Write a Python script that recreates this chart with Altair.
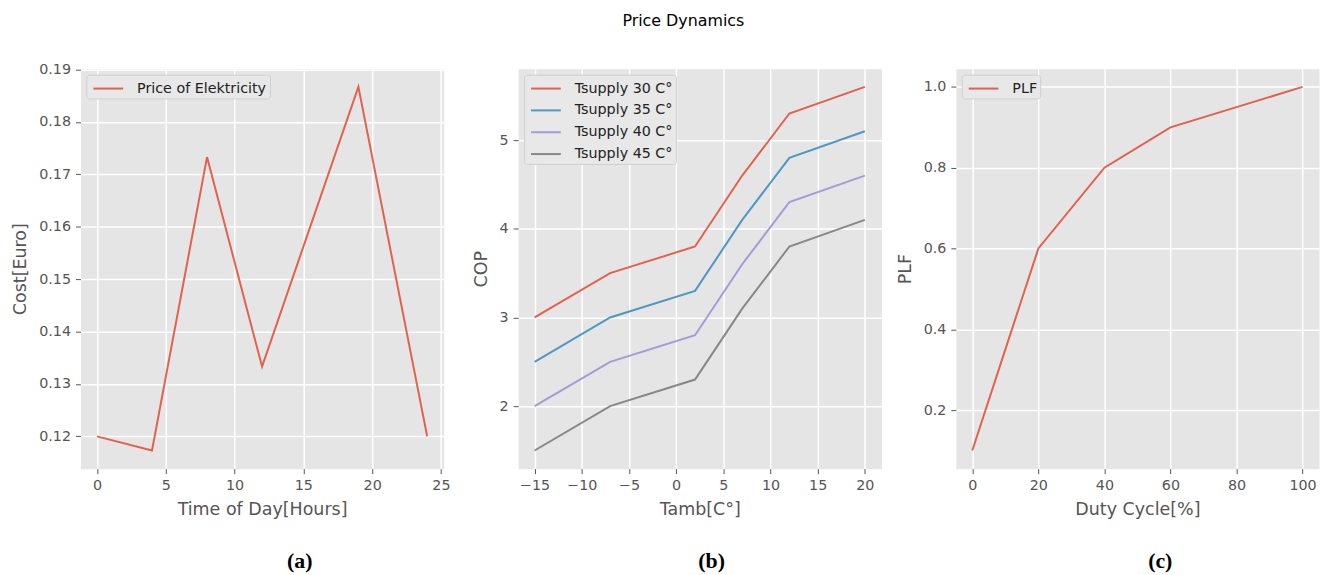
import altair as alt
import pandas as pd

# ---- data ----
hours = [0, 4, 8, 12, 19, 24]
price = [0.12, 0.1173, 0.1733, 0.1333, 0.1867, 0.12]
price_name = "Price of Elektricity"

tamb = [-15, -7, 2, 7, 12, 20]
series_names = ["Tsupply 30 C°", "Tsupply 35 C°", "Tsupply 40 C°", "Tsupply 45 C°"]
cop_30 = [3.0, 3.5, 3.8, 4.6, 5.3, 5.6]
cop_35 = [2.5, 3.0, 3.3, 4.1, 4.8, 5.1]
cop_40 = [2.0, 2.5, 2.8, 3.6, 4.3, 4.6]
cop_45 = [1.5, 2.0, 2.3, 3.1, 3.8, 4.1]

duty = [0, 20, 40, 60, 80, 100]
plf = [0.1, 0.6, 0.8, 0.9, 0.95, 1.0]
plf_name = "PLF"

ticks_a_x = [0, 5, 10, 15, 20, 25]
ticks_a_y = [0.12, 0.13, 0.14, 0.15, 0.16, 0.17, 0.18, 0.19]
ticks_b_x = [-15, -10, -5, 0, 5, 10, 15, 20]
ticks_b_y = [2, 3, 4, 5]
ticks_c_x = [0, 20, 40, 60, 80, 100]
ticks_c_y = [0.2, 0.4, 0.6, 0.8, 1.0]

colors = ["#E24A33", "#348ABD", "#988ED5", "#777777"]

# ---- tables ----
df_a = pd.DataFrame({"x": hours, "y": price, "s": [price_name] * len(hours)})
rows = []
for name, vals in zip(series_names, [cop_30, cop_35, cop_40, cop_45]):
    for t, v in zip(tamb, vals):
        rows.append({"x": t, "y": v, "s": name})
df_b = pd.DataFrame(rows)
df_c = pd.DataFrame({"x": duty, "y": plf, "s": [plf_name] * len(duty)})

FONT = "DejaVu Sans"
W, H = 366, 403


def axis(title, values, fmt):
    return alt.Axis(
        title=title, values=values, format=fmt, grid=True, gridColor="white",
        gridWidth=1.5, domain=False, tickColor="#555555", tickSize=5, tickWidth=1,
        labelColor="#555555", labelFont=FONT, labelFontSize=14.4, labelPadding=5,
        titleFont=FONT, titleFontSize=17.6, titleFontWeight="normal",
        titleColor="#555555", titlePadding=9,
    )


def legend():
    return alt.Legend(
        title=None, orient="top-left", offset=6, symbolType="M-1,0L2,0",
        symbolSize=400, symbolStrokeWidth=2, symbolOffset=3, labelFont=FONT,
        labelFontSize=14.4, labelColor="#222222", labelOffset=23,
        fillColor="#E8E8E8", strokeColor="#D0D0D0", cornerRadius=3,
        padding=3, rowPadding=4,
    )


def panel(df, xdom, ydom, xt, yt, xtitle, ytitle, xfmt, yfmt, dom, rng, cap, capdx):
    return alt.Chart(df).mark_line(strokeWidth=2, opacity=0.85).encode(
        x=alt.X("x:Q", scale=alt.Scale(domain=xdom, nice=False, zero=False),
                axis=axis(xtitle, xt, xfmt)),
        y=alt.Y("y:Q", scale=alt.Scale(domain=ydom, nice=False, zero=False),
                axis=axis(ytitle, yt, yfmt)),
        color=alt.Color("s:N", scale=alt.Scale(domain=dom, range=rng),
                        sort=dom, legend=legend()),
    ).properties(
        width=W, height=H,
        title=alt.TitleParams(cap, orient="bottom", anchor="middle", dx=capdx,
                              offset=33, font="Liberation Serif", fontSize=22,
                              fontWeight="bold", color="black"),
    )


pa = panel(df_a, [-1.2, 25.2], [0.11383, 0.19017], ticks_a_x, ticks_a_y,
           "Time of Day[Hours]", "Cost[Euro]", "d", ".2f",
           [price_name], [colors[0]], "(a)", 38)
pb = panel(df_b, [-16.75, 21.75], [1.295, 5.805], ticks_b_x, ticks_b_y,
           "Tamb[C°]", "COP", "d", "d", series_names, colors, "(b)", 12)
pc = panel(df_c, [-5, 105], [0.055, 1.045], ticks_c_x, ticks_c_y,
           "Duty Cycle[%]", "PLF", "d", ".1f", [plf_name], [colors[0]], "(c)", 23)

chart = alt.hconcat(pa, pb, pc, spacing=75, bounds="flush").resolve_scale(
    color="independent"
).properties(
    title=alt.TitleParams("Price Dynamics", anchor="middle", font=FONT,
                          fontSize=16, fontWeight="normal", color="black",
                          offset=32, dx=18),
    padding={"left": 3, "top": 3, "right": 5, "bottom": 5},
).configure_view(fill="#E5E5E5", stroke="transparent")

chart.save("out.html", embed_options={"renderer": "svg", "actions": False})
